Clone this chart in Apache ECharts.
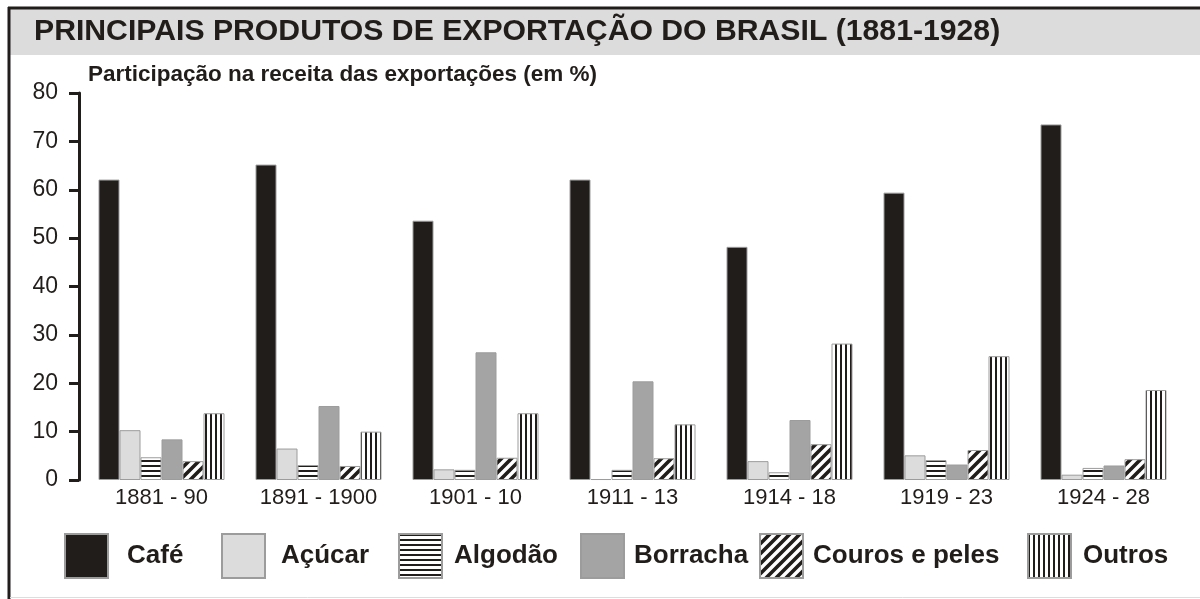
<!DOCTYPE html>
<html><head><meta charset="utf-8">
<script src="https://cdn.jsdelivr.net/npm/echarts@6/dist/echarts.min.js"></script>
<style>html,body{margin:0;padding:0;background:#fff}#c{width:1200px;height:599px}</style>
</head><body><div id="c"></div>
<script>
const titleText = 'PRINCIPAIS PRODUTOS DE EXPORTAÇÃO DO BRASIL (1881-1928)';
const subtitleText = 'Participação na receita das exportações (em %)';
const categories = ['1881 - 90', '1891 - 1900', '1901 - 10', '1911 - 13', '1914 - 18', '1919 - 23', '1924 - 28'];
const seriesNames = ['Café', 'Açúcar', 'Algodão', 'Borracha', 'Couros e peles', 'Outros'];
const cafe     = [62.1, 65.2, 53.6, 62.1, 48.2, 59.4, 73.5];
const acucar   = [10.3, 6.5, 2.2, 0.2, 3.9, 5.1, 1.1];
const algodao  = [4.7, 3.1, 2.1, 2.1, 1.6, 4.1, 2.5];
const borracha = [8.4, 15.3, 26.4, 20.4, 12.4, 3.2, 3.0];
const couros   = [3.9, 2.9, 4.6, 4.5, 7.4, 6.2, 4.3];
const outros   = [13.8, 10.0, 13.8, 11.5, 28.2, 25.6, 18.6];
const yMin = 0, yMax = 80, yStep = 10;

const INK = '#211d1a';
const FONT = 'Liberation Sans, Arial, sans-serif';

function tile(w, h, draw) {
  const c = document.createElement('canvas');
  c.width = w; c.height = h;
  const ctx = c.getContext('2d');
  ctx.fillStyle = '#fff'; ctx.fillRect(0, 0, w, h);
  draw(ctx);
  return { image: c, repeat: 'repeat' };
}
const hStripe = tile(1, 5, ctx => { ctx.fillStyle = INK; ctx.fillRect(0, 0, 1, 2); });
const vStripe = tile(5, 1, ctx => { ctx.fillStyle = INK; ctx.fillRect(0, 0, 2, 1); });
const dStripe = tile(10, 10, ctx => {
  ctx.strokeStyle = INK; ctx.lineWidth = 3.6;
  ctx.beginPath();
  ctx.moveTo(-3, 13); ctx.lineTo(13, -3);
  ctx.moveTo(-8, 8); ctx.lineTo(8, -8);
  ctx.moveTo(2, 18); ctx.lineTo(18, 2);
  ctx.stroke();
});

const fills = [INK, '#dcdcdc', hStripe, '#a4a4a4', dStripe, vStripe];
const dataSets = [cafe, acucar, algodao, borracha, couros, outros];

const legendLeft = [64, 221, 398, 580, 759, 1027];
const legendTextPad = [14, 11, 7, 5, 5, 7];

const chart = echarts.init(document.getElementById('c'), null, { renderer: 'canvas' });
chart.setOption({
  backgroundColor: '#fff',
  animation: false,
  title: [{
    text: titleText, left: 34, top: 17, padding: 0,
    textStyle: { fontFamily: FONT, fontSize: 30.2, fontWeight: 'bold', color: INK }
  }, {
    text: subtitleText, left: 88, top: 63, padding: 0,
    textStyle: { fontFamily: FONT, fontSize: 22.5, fontWeight: 'bold', color: INK }
  }],
  graphic: [
    { type: 'rect', z: -10, shape: { x: 10, y: 9, width: 1190, height: 46 }, style: { fill: '#dcdcdc' } },
    { type: 'line', z: -5, shape: { x1: 8, y1: 8, x2: 1200, y2: 8 }, style: { stroke: INK, lineWidth: 3 } },
    { type: 'line', z: -5, shape: { x1: 9, y1: 7, x2: 9, y2: 599 }, style: { stroke: INK, lineWidth: 3 } },
    { type: 'line', z: -5, shape: { x1: 10, y1: 597.5, x2: 1200, y2: 597.5 }, style: { stroke: '#dddddd', lineWidth: 1 } }
  ],
  legend: seriesNames.map((n, i) => ({
    data: [n], left: legendLeft[i], top: 533, padding: 0,
    icon: 'rect', itemWidth: 43, itemHeight: 44, selectedMode: false,
    textStyle: { fontFamily: FONT, fontSize: 26, fontWeight: 'bold', color: INK, padding: [0, 0, 0, legendTextPad[i]] }
  })),
  grid: { left: 83, right: 18, top: 93, bottom: 119, containLabel: false },
  xAxis: {
    type: 'category', data: categories,
    axisLine: { show: false }, axisTick: { show: false },
    axisLabel: { fontFamily: FONT, fontSize: 22, color: INK, margin: 7 }
  },
  yAxis: {
    type: 'value', min: yMin, max: yMax, interval: yStep, offset: 4,
    splitLine: { show: false },
    axisLine: { show: true, lineStyle: { color: INK, width: 3 } },
    axisTick: { show: true, length: 10, lineStyle: { color: INK, width: 3 } },
    axisLabel: { fontFamily: FONT, fontSize: 23, color: INK, margin: 21 }
  },
  series: seriesNames.map((n, i) => ({
    name: n, type: 'bar', data: dataSets[i],
    barWidth: 21, barGap: '0%',
    itemStyle: { color: fills[i], borderColor: '#9c9c9c', borderWidth: 1 }
  }))
});
</script></body></html>
